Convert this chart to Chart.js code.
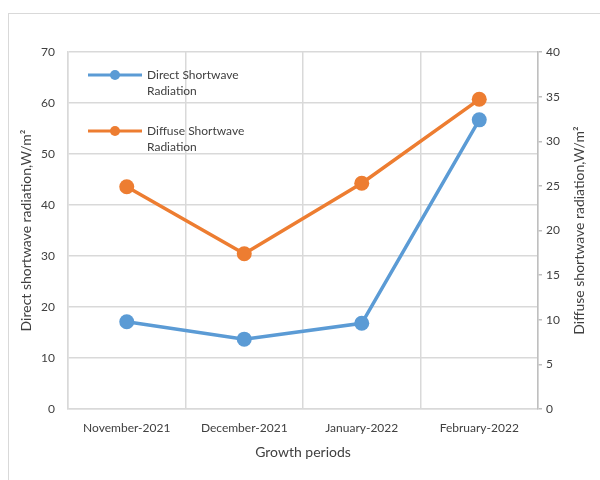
<!DOCTYPE html>
<html>
<head>
<meta charset="utf-8">
<script src="https://cdn.jsdelivr.net/npm/chart.js@4.4.1/dist/chart.umd.min.js"></script>
<style>
  html, body { margin: 0; background: #fff; }
  #wrap { width: 600px; height: 480px; }
</style>
</head>
<body>
<div id="wrap"><canvas id="radChart" width="600" height="480"></canvas></div>
<script>
const periods = ['November-2021', 'December-2021', 'January-2022', 'February-2022'];
const directVals = [17.1, 13.7, 16.8, 56.7];   // W/m², left axis
const diffuseVals = [24.9, 17.4, 25.3, 34.7];  // W/m², right axis
const leftRange = [0, 70, 10];
const rightRange = [0, 40, 5];
const leftTitle = 'Direct shortwave radiation,W/m²';
const rightTitle = 'Diffuse shortwave radiation,W/m²';
const legendLines = [
  ['Direct Shortwave', 'Radiation'],
  ['Diffuse Shortwave', 'Radiation']
];

const BLUE = '#5B9BD5';
const ORANGE = '#ED7D31';
const GRID = '#d9d9d9';
const TEXT = '#404040';
const FONT = 'Lato, "Open Sans", sans-serif';

// frame, rotated axis titles and the wrapped legend
const decor = {
  id: 'decor',
  beforeDraw(chart) {
    const c = chart.ctx;
    c.save();
    c.fillStyle = '#fff';
    c.fillRect(0, 0, chart.width, chart.height);
    c.strokeStyle = GRID;
    c.lineWidth = 1;
    c.strokeRect(8.5, 13.5, 700, 600);
    c.restore();
  },
  afterDraw(chart) {
    const c = chart.ctx;
    const a = chart.chartArea;
    const midY = (a.top + a.bottom) / 2;
    c.save();
    c.fillStyle = TEXT;
    c.font = '14px ' + FONT;
    c.textAlign = 'center';
    c.textBaseline = 'middle';
    [[26, leftTitle], [579, rightTitle]].forEach(([x, t]) => {
      c.save();
      c.translate(x, midY);
      c.rotate(-Math.PI / 2);
      c.fillText(t, 0, 0);
      c.restore();
    });

    // legend
    c.font = '12px ' + FONT;
    c.textAlign = 'left';
    const rows = [75, 131];
    chart.data.datasets.forEach((ds, i) => {
      const y = rows[i];
      c.strokeStyle = ds.borderColor;
      c.lineWidth = 3;
      c.beginPath();
      c.moveTo(88, y);
      c.lineTo(142, y);
      c.stroke();
      c.fillStyle = ds.borderColor;
      c.beginPath();
      c.arc(115, y, 5, 0, Math.PI * 2);
      c.fill();
      c.fillStyle = TEXT;
      legendLines[i].forEach((ln, j) => c.fillText(ln, 147, y + j * 16));
    });
    c.restore();
  }
};

const ctx = document.getElementById('radChart').getContext('2d');
new Chart(ctx, {
  type: 'line',
  data: {
    labels: periods,
    datasets: [{
      label: legendLines[0].join(' '),
      data: directVals,
      yAxisID: 'y',
      borderColor: BLUE,
      backgroundColor: BLUE,
      borderWidth: 3.5,
      pointRadius: 7.5,
      pointHoverRadius: 7.5,
      pointBorderWidth: 0,
      tension: 0
    }, {
      label: legendLines[1].join(' '),
      data: diffuseVals,
      yAxisID: 'y1',
      borderColor: ORANGE,
      backgroundColor: ORANGE,
      borderWidth: 3.5,
      pointRadius: 7.5,
      pointHoverRadius: 7.5,
      pointBorderWidth: 0,
      tension: 0
    }]
  },
  options: {
    responsive: false,
    animation: false,
    layout: { padding: { top: 52, left: 0, right: 0, bottom: 0 } },
    plugins: {
      legend: { display: false },
      tooltip: { enabled: false }
    },
    scales: {
      x: {
        offset: true,
        grid: { offset: true, color: GRID, lineWidth: 1.5, drawTicks: false },
        border: { color: GRID, width: 1.5 },
        ticks: { padding: 12, color: TEXT, font: { family: FONT, size: 12 } },
        title: {
          display: true, text: 'Growth periods', color: TEXT,
          font: { family: FONT, size: 14 }, padding: { top: 4, bottom: 19 }
        },
        afterFit(s) { s.height = 71; }
      },
      y: {
        position: 'left',
        min: leftRange[0], max: leftRange[1],
        grid: { color: GRID, lineWidth: 1.5, drawTicks: false },
        border: { color: GRID, width: 1.5 },
        ticks: { stepSize: leftRange[2], padding: 13, color: TEXT, font: { family: FONT, size: 12 } },
        afterFit(s) { s.width = 68; }
      },
      y1: {
        position: 'right',
        min: rightRange[0], max: rightRange[1],
        grid: { drawOnChartArea: false, tickLength: 4, color: '#bfbfbf', lineWidth: 1.5 },
        border: { color: '#bfbfbf', width: 1.5 },
        ticks: { stepSize: rightRange[2], padding: 4, color: TEXT, font: { family: FONT, size: 12 } },
        afterFit(s) { s.width = 62; }
      }
    }
  },
  plugins: [decor]
});
</script>
</body>
</html>
